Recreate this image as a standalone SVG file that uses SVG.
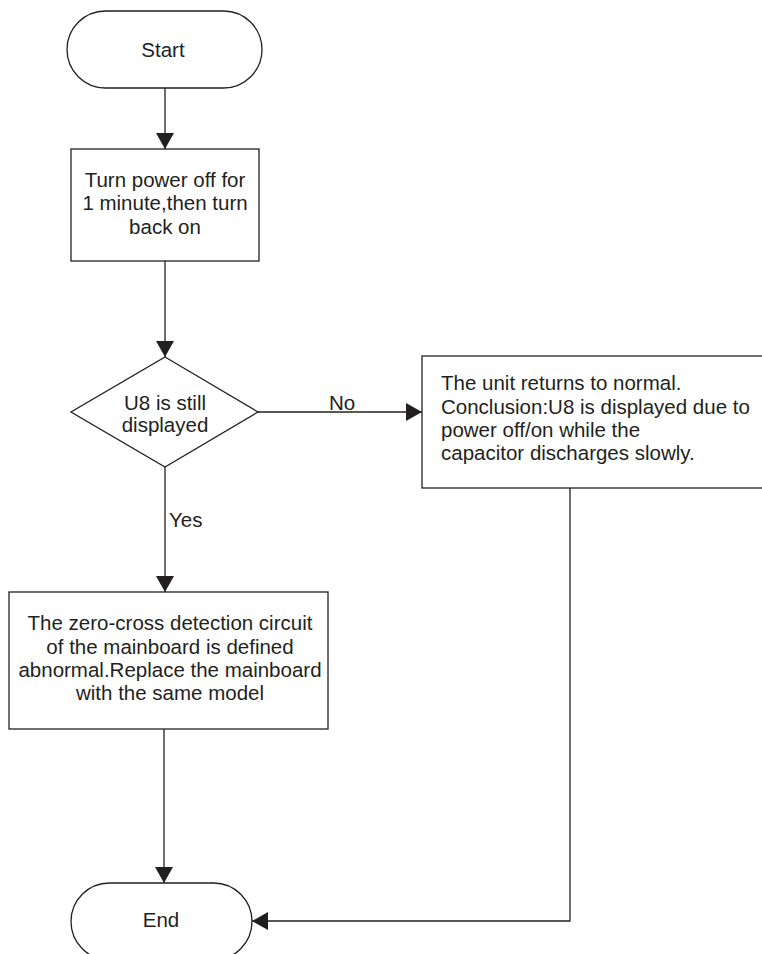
<svg xmlns="http://www.w3.org/2000/svg" width="762" height="954" viewBox="0 0 762 954">
<style>
.s{fill:#fff;stroke:#231f20;stroke-width:1.3}
.c{fill:none;stroke:#231f20;stroke-width:1.3}
text{font-family:"Liberation Sans",Arial,sans-serif;font-size:20.5px;fill:#231f20}
.m{text-anchor:middle}
</style>
<defs>
<marker id="a" markerUnits="userSpaceOnUse" markerWidth="16" markerHeight="18" refX="16" refY="9" orient="auto">
<path d="M0,0 L16,9 L0,18 Z" fill="#231f20"/>
</marker>
</defs>
<rect width="762" height="954" fill="#fff"/>
<g id="connectors">
<path class="c" d="M165,88 V149" marker-end="url(#a)"/>
<path class="c" d="M165,261 V357" marker-end="url(#a)"/>
<path class="c" d="M258,412 H422" marker-end="url(#a)"/>
<path class="c" d="M165,467 V592" marker-end="url(#a)"/>
<path class="c" d="M164,729 V883" marker-end="url(#a)"/>
<path class="c" d="M570,488 V921 H252" marker-end="url(#a)"/>
<text x="342" y="410" class="m">No</text>
<text x="169" y="527">Yes</text>
</g>
<g id="start">
<rect class="s" x="67" y="11" width="195" height="77" rx="38.5"/>
<text x="163" y="57" class="m">Start</text>
</g>
<g id="power">
<rect class="s" x="71" y="149" width="188" height="112"/>
<text x="165" y="187" class="m">Turn power off for</text>
<text x="165" y="210" class="m">1 minute,then turn</text>
<text x="165" y="234" class="m">back on</text>
</g>
<g id="decision">
<path class="s" d="M165,357 L258,412 L165,467 L71,412 Z"/>
<text x="165" y="410" class="m">U8 is still</text>
<text x="165" y="432" class="m">displayed</text>
</g>
<g id="normal">
<rect class="s" x="422" y="356" width="400" height="132"/>
<text x="441" y="390">The unit returns to normal.</text>
<text x="441" y="414">Conclusion:U8 is displayed due to</text>
<text x="441" y="437">power off/on while the</text>
<text x="441" y="460">capacitor discharges slowly.</text>
</g>
<g id="replace">
<rect class="s" x="9" y="592" width="319" height="137"/>
<text x="170" y="630" class="m">The zero-cross detection circuit</text>
<text x="170" y="654" class="m">of the mainboard is defined</text>
<text x="170" y="677" class="m">abnormal.Replace the mainboard</text>
<text x="170" y="700" class="m">with the same model</text>
</g>
<g id="end">
<rect class="s" x="71" y="883" width="181" height="77" rx="38.5"/>
<text x="161" y="927" class="m">End</text>
</g>
</svg>
